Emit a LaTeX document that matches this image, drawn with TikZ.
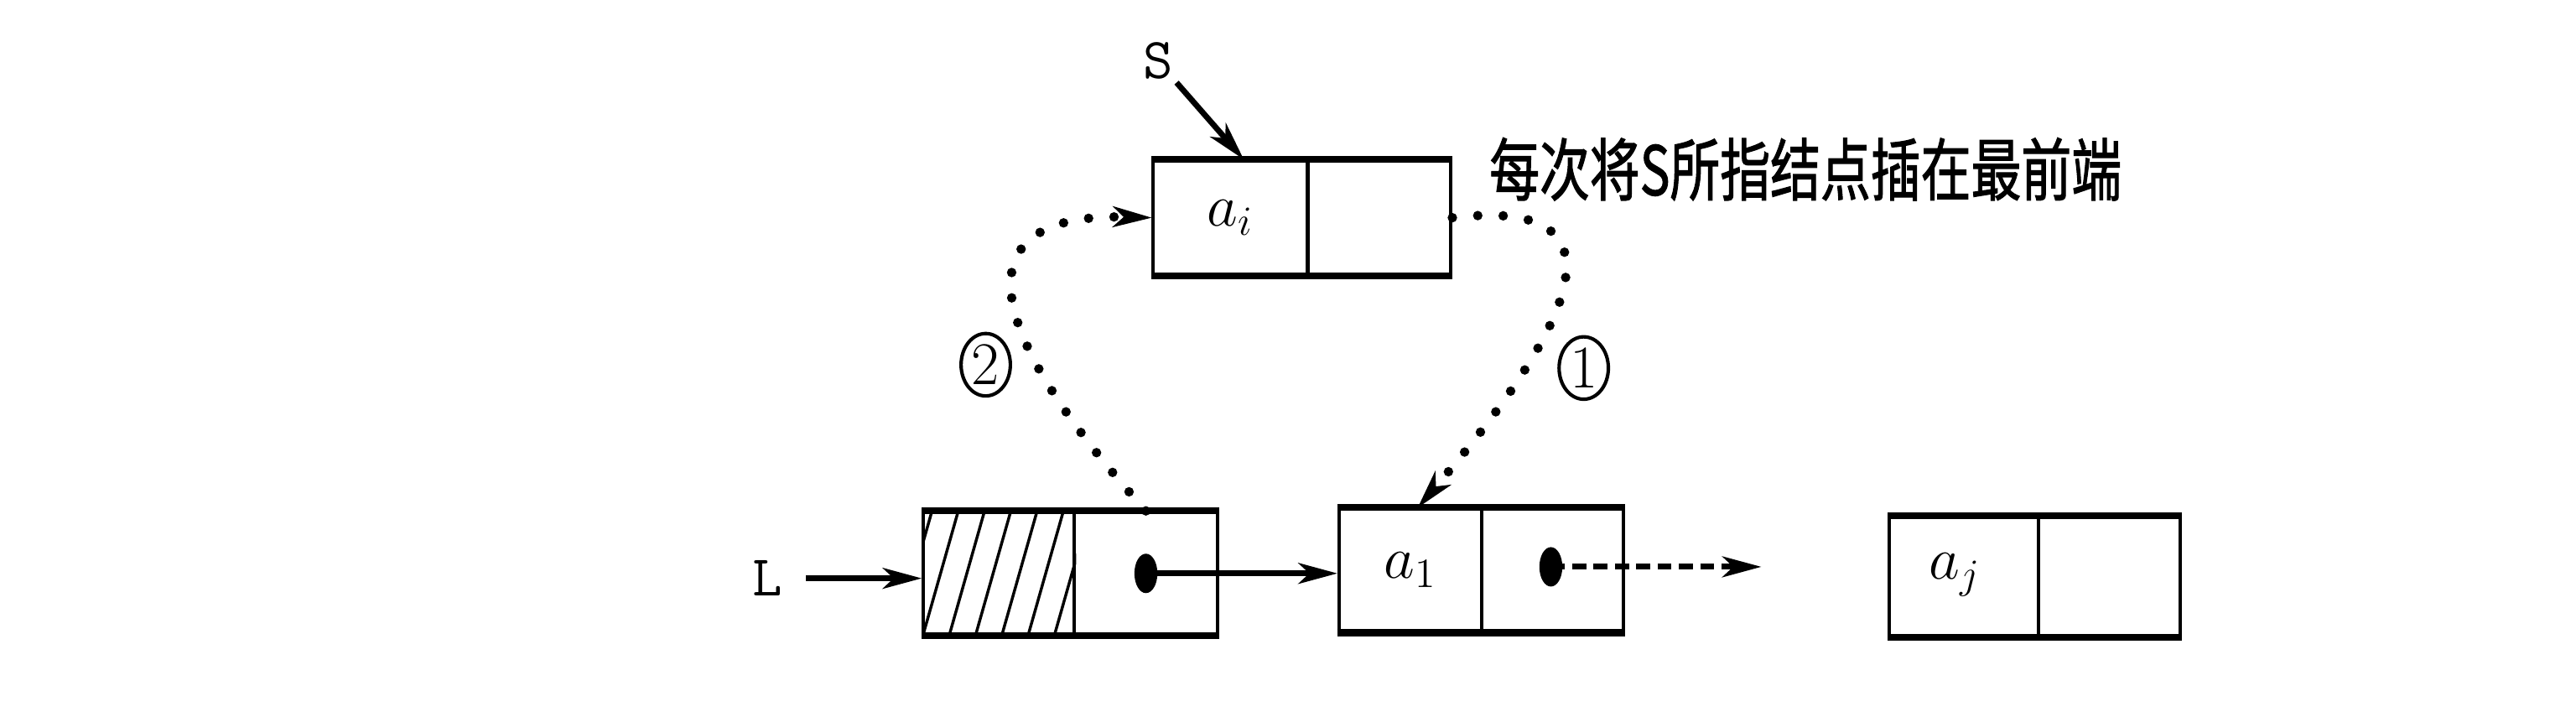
\documentclass[tikz,border=0pt]{standalone}
\usepackage{fontspec}
\newfontfamily\cjk[FakeBold=1.6]{Noto Sans CJK SC}
\usetikzlibrary{arrows.meta,shapes.geometric}
\begin{document}
\begin{tikzpicture}[x=0.02cm,y=-0.02cm,
  cell/.style={draw, line width=1.2pt, rectangle, inner sep=0pt, minimum height=#1},
  hedge/.style={line width=2.4pt},
  arr/.style={line width=2pt, -{Stealth[length=0.48cm, width=0.26cm, inset=0.14cm, line width=0.4pt]}},
  dotline/.style={line width=3.3pt, line cap=round, dash pattern=on 0pt off 0.31cm,
     -{Stealth[length=0.48cm, width=0.26cm, inset=0.14cm, line width=0.4pt]}},
  dashline/.style={line width=2pt, dash pattern=on 0.17cm off 0.09cm,
     -{Stealth[length=0.48cm, width=0.26cm, inset=0.14cm, line width=0.4pt]}},
  lbl/.style={font=\fontsize{20}{20}\selectfont\ttfamily, inner sep=1pt},
  mth/.style={font=\fontsize{22}{22}\selectfont},
  circ/.style={ellipse, draw, line width=1.2pt, minimum width=0.6cm, minimum height=0.76cm, inner sep=0pt, font=\fontsize{21}{21}\selectfont},
  ptr/.style={ellipse, fill, minimum width=0.28cm, minimum height=0.48cm, inner sep=0pt}
]
\useasboundingbox (0,0) rectangle (1568,436);

% top node (S)
\node[cell=1.38cm, minimum width=1.88cm] (t1) at (749,132.5) {};
\node[cell=1.38cm, minimum width=1.74cm] (t2) at (839.5,132.5) {};
\draw[hedge] (t1.north west) -- (t2.north east);
\draw[hedge] (t1.south west) -- (t2.south east);
\node[mth] (ai) at (t1.center) {$a_i$};

% head node
\node[cell=1.48cm, minimum width=1.84cm] (h1) at (608,349) {};
\node[cell=1.48cm, minimum width=1.74cm] (h2) at (697.5,349) {};
\begin{scope}
  \clip (h1.south west) rectangle (h1.north east);
  \foreach \x in {530,546,...,660} \draw[line width=1pt] (\x,386) -- (\x+21,312);
\end{scope}
\draw[hedge] (h1.north west) -- (h2.north east);
\draw[hedge] (h1.south west) -- (h2.south east);
\node[ptr] (d1) at (h2.center) {};

% a1 node
\node[cell=1.48cm, minimum width=1.74cm] (n1) at (858.5,347) {};
\node[cell=1.48cm, minimum width=1.72cm] (n2) at (945,347) {};
\draw[hedge] (n1.north west) -- (n2.north east);
\draw[hedge] (n1.south west) -- (n2.south east);
\node[mth] (a1) at (n1.center) {$a_1$};
\node[ptr] (d2) at (944,345) {};

% aj node
\node[cell=1.44cm, minimum width=1.82cm] (j1) at (1195.5,351) {};
\node[cell=1.44cm, minimum width=1.72cm] (j2) at (1284,351) {};
\draw[hedge] (j1.north west) -- (j2.north east);
\draw[hedge] (j1.south west) -- (j2.south east);
\node[mth] (aj) at (1190,350) {$a_j$};

% labels
\node[lbl] (S) at (705,37) {S};
\node[lbl] (L) at (467,352) {L};
\node[inner sep=0pt] (txt) at (1099,103) {\scalebox{0.74}[1]{\cjk\fontsize{23.5}{23.5}\selectfont 每次将S所指结点插在最前端}};
\node[circ] (c2) at (600,222) {2};
\node[circ] (c1) at (964,224) {1};

% connectors
\draw[arr] (S.south east) -- ([xshift=0.16cm]t1.north);
\draw[arr, shorten <=0.25cm] (L.east) -- (L.east -| h1.west);
\draw[arr] (d1.center) -- (d1.center -| n1.west);
\coordinate (e) at (1072,345);
\draw[dashline] (d2.center) -- (e);
\draw[dotline] (h2.north) .. controls (580,180) and (600,130) .. (t1.west);
\draw[dotline] (t2.east) .. controls (990,120) and (965,190) .. ([xshift=0.09cm]n1.north);
\end{tikzpicture}
\end{document}
